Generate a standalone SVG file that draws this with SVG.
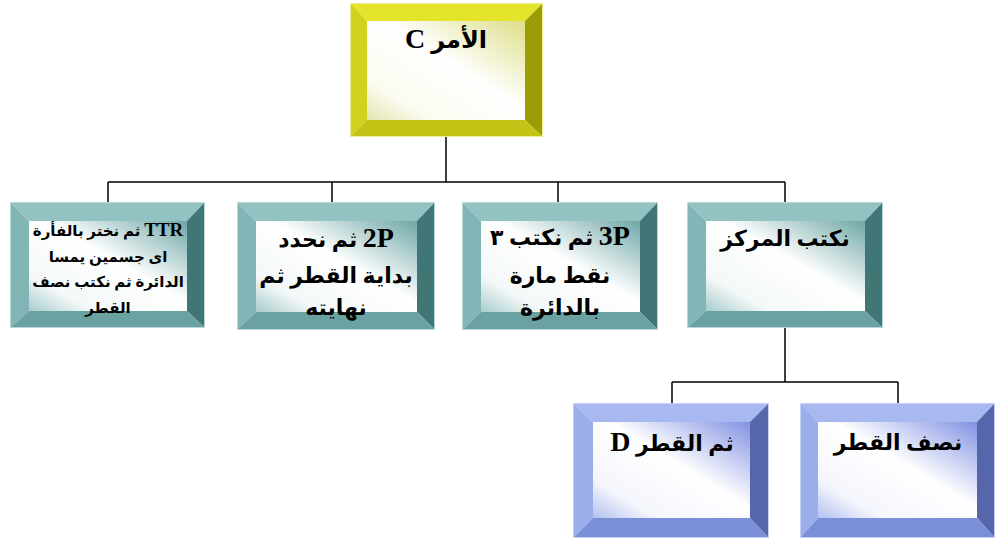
<svg xmlns="http://www.w3.org/2000/svg" width="996" height="541" viewBox="0 0 996 541">
<defs>
<linearGradient id="gy" x1="1" y1="0" x2="0" y2="1">
<stop offset="0" stop-color="#dede88"/><stop offset="0.45" stop-color="#ffffff"/><stop offset="0.8" stop-color="#fbfbf0"/><stop offset="1" stop-color="#e4e4b0"/>
</linearGradient>
<linearGradient id="gt" x1="1" y1="0" x2="0" y2="1">
<stop offset="0" stop-color="#6fa6a6"/><stop offset="0.45" stop-color="#ffffff"/><stop offset="0.8" stop-color="#f4f8f8"/><stop offset="1" stop-color="#a8cccc"/>
</linearGradient>
<linearGradient id="gb" x1="1" y1="0" x2="0" y2="1">
<stop offset="0" stop-color="#8292e2"/><stop offset="0.45" stop-color="#ffffff"/><stop offset="0.8" stop-color="#f4f6fd"/><stop offset="1" stop-color="#b4c0f0"/>
</linearGradient>
</defs>
<style>
.t{font-family:"Liberation Serif","DejaVu Sans",serif;font-weight:bold;fill:#000;text-anchor:middle;direction:rtl}
.L{font-size:28px}
.Ls{font-size:19px}
.conn{stroke:#000;stroke-width:1.5;fill:none}
.y .tp{fill:#e4e42a}.y .lf{fill:#d2d21c}.y .rt{fill:#9c9c06}.y .bt{fill:#c4c416}.y .ol{fill:none;stroke:#eeee90;stroke-width:1}
.c .tp{fill:#93c2c2}.c .lf{fill:#82b5b5}.c .rt{fill:#417677}.c .bt{fill:#6aa1a1}.c .ol{fill:none;stroke:#b8d8d8;stroke-width:1}
.b .tp{fill:#a8b9f1}.b .lf{fill:#9aaeea}.b .rt{fill:#5666aa}.b .bt{fill:#7a8fd8}.b .ol{fill:none;stroke:#c6d0f6;stroke-width:1}
</style>
<g id="connectors">
<path class="conn" d="M446,137V182M108,182H785M108,182V202M332,182V202M558,182V202M785,182V202M785,328V382M672,382H898M672,382V403M898,382V403"/>
</g>
<g id="n0" class="y">
<polygon class="tp" points="350,3 543,3 525,21 367,21"/>
<polygon class="lf" points="350,3 367,21 367,120 350,137"/>
<polygon class="rt" points="543,3 543,137 525,120 525,21"/>
<polygon class="bt" points="350,137 367,120 525,120 543,137"/>
<rect x="367" y="21" width="158" height="99" fill="url(#gy)"/>
<rect class="ol" x="350.5" y="3.5" width="192" height="133"/>
<text class="t" x="446" y="48" font-size="24">الأمر <tspan class="L">C</tspan></text>
</g>
<g id="n1" class="c">
<polygon class="tp" points="10,202 205,202 187,221 29,221"/>
<polygon class="lf" points="10,202 29,221 29,311 10,328"/>
<polygon class="rt" points="205,202 205,328 187,311 187,221"/>
<polygon class="bt" points="10,328 29,311 187,311 205,328"/>
<rect x="29" y="221" width="158" height="90" fill="url(#gt)"/>
<rect class="ol" x="10.5" y="202.5" width="194" height="125"/>
<text class="t" font-size="15"><tspan x="108" y="236"><tspan class="Ls">TTR</tspan> ثم نختر بالفأرة</tspan><tspan x="108" y="262">اى جسمين يمسا</tspan><tspan x="108" y="287">الدائرة ثم نكتب نصف</tspan><tspan x="108" y="313">القطر</tspan></text>
</g>
<g id="n2" class="c">
<polygon class="tp" points="237,202 435,202 417,221 256,221"/>
<polygon class="lf" points="237,202 256,221 256,312 237,330"/>
<polygon class="rt" points="435,202 435,330 417,312 417,221"/>
<polygon class="bt" points="237,330 256,312 417,312 435,330"/>
<rect x="256" y="221" width="161" height="91" fill="url(#gt)"/>
<rect class="ol" x="237.5" y="202.5" width="197" height="127"/>
<text class="t" font-size="22"><tspan x="336" y="247"><tspan class="L">2P</tspan> ثم نحدد</tspan><tspan x="336" y="283">بداية القطر ثم</tspan><tspan x="336" y="315">نهايته</tspan></text>
</g>
<g id="n3" class="c">
<polygon class="tp" points="462,202 658,202 640,221 481,221"/>
<polygon class="lf" points="462,202 481,221 481,312 462,330"/>
<polygon class="rt" points="658,202 658,330 640,312 640,221"/>
<polygon class="bt" points="462,330 481,312 640,312 658,330"/>
<rect x="481" y="221" width="159" height="91" fill="url(#gt)"/>
<rect class="ol" x="462.5" y="202.5" width="195" height="127"/>
<text class="t" font-size="22"><tspan x="560" y="245"><tspan class="L">3P</tspan> ثم نكتب ٣</tspan><tspan x="560" y="283">نقط مارة</tspan><tspan x="560" y="315">بالدائرة</tspan></text>
</g>
<g id="n4" class="c">
<polygon class="tp" points="687,202 883,202 865,221 706,221"/>
<polygon class="lf" points="687,202 706,221 706,311 687,328"/>
<polygon class="rt" points="883,202 883,328 865,311 865,221"/>
<polygon class="bt" points="687,328 706,311 865,311 883,328"/>
<rect x="706" y="221" width="159" height="90" fill="url(#gt)"/>
<rect class="ol" x="687.5" y="202.5" width="195" height="125"/>
<text class="t" x="785" y="246" font-size="22">نكتب المركز</text>
</g>
<g id="n5" class="b">
<polygon class="tp" points="573,403 769,403 750,422 593,422"/>
<polygon class="lf" points="573,403 593,422 593,518 573,538"/>
<polygon class="rt" points="769,403 769,538 750,518 750,422"/>
<polygon class="bt" points="573,538 593,518 750,518 769,538"/>
<rect x="593" y="422" width="157" height="96" fill="url(#gb)"/>
<rect class="ol" x="573.5" y="403.5" width="195" height="134"/>
<text class="t" x="672" y="451" font-size="22">ثم القطر <tspan class="L">D</tspan></text>
</g>
<g id="n6" class="b">
<polygon class="tp" points="800,403 995,403 977,422 818,422"/>
<polygon class="lf" points="800,403 818,422 818,518 800,538"/>
<polygon class="rt" points="995,403 995,538 977,518 977,422"/>
<polygon class="bt" points="800,538 818,518 977,518 995,538"/>
<rect x="818" y="422" width="159" height="96" fill="url(#gb)"/>
<rect class="ol" x="800.5" y="403.5" width="194" height="134"/>
<text class="t" x="898" y="450" font-size="22">نصف القطر</text>
</g>
</svg>
